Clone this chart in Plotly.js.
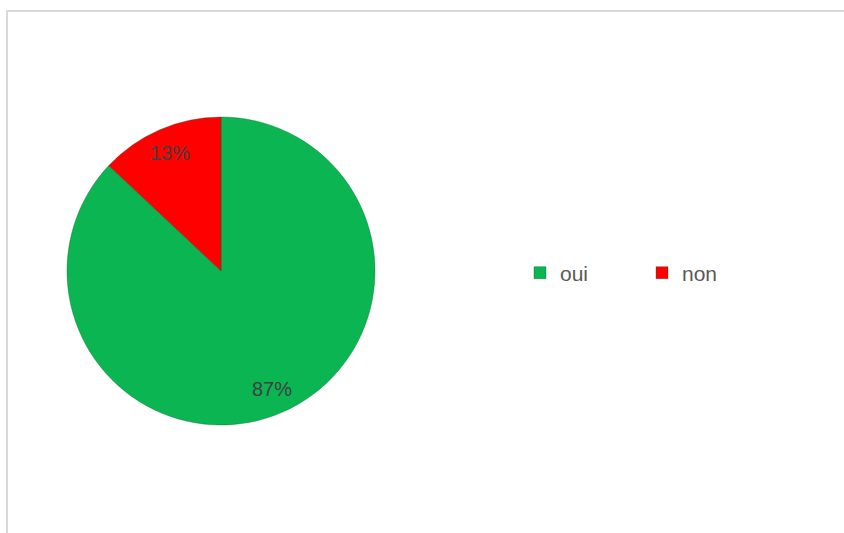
<!DOCTYPE html>
<html><head><meta charset="utf-8">
<script src="https://cdn.plot.ly/plotly-3.0.1.min.js"></script>
<style>
html,body{margin:0;padding:0;background:#fff;overflow:hidden}
#frame{position:absolute;left:6px;top:10px;width:900px;height:600px;border-left:2px solid #d9d9d9;border-top:2px solid #d9d9d9}
#chart{position:absolute;left:0;top:0;width:844px;height:533px}
</style></head><body>
<div id="frame"></div>
<div id="chart"></div>
<script>
const labels = ["oui", "non"];
const values = [87, 13];
const colors = ["#0AB552", "#FF0000"];

const W = 844, H = 533;
const cx = 221, cy = 271, R = 154;
const domX = [(cx - R) / W, (cx + R) / W];
const domY = [(H - cy - R) / H, (H - cy + R) / H];

// label annotations placed at slice mid-angles computed from data
const total = values.reduce((a, b) => a + b, 0);
let acc = 0;
const annotations = values.map((v, i) => {
  const mid = (acc + v / 2) / total * 2 * Math.PI; acc += v;
  const r = 0.835 * R;
  const px = cx + r * Math.sin(mid);
  const py = cy - r * Math.cos(mid);
  return {
    x: px / W, y: 1 - py / H, xref: "paper", yref: "paper",
    xanchor: "center", yanchor: "middle",
    text: Math.round(v / total * 100) + "%", showarrow: false,
    font: {family: "Liberation Sans, Arial, sans-serif", size: 20, color: "#404040"}
  };
});

Plotly.newPlot("chart", [{
  type: "pie",
  labels: labels,
  values: values,
  sort: false,
  direction: "clockwise",
  rotation: 0,
  textinfo: "none",
  hoverinfo: "label+percent",
  marker: {colors: colors, line: {color: "rgba(0,90,40,0.35)", width: 1}},
  domain: {x: domX, y: domY}
}], {
  width: W, height: H,
  margin: {l: 0, r: 0, t: 0, b: 0, autoexpand: false},
  paper_bgcolor: "rgba(0,0,0,0)",
  showlegend: true,
  legend: {
    orientation: "h", x: 520 / W, xanchor: "left", y: 1 - 273 / H, yanchor: "middle",
    font: {family: "Liberation Sans, Arial, sans-serif", size: 21, color: "#595959"},
    itemwidth: 30, entrywidth: 77, bgcolor: "rgba(0,0,0,0)"
  },
  annotations: annotations
}, {displayModeBar: false, staticPlot: true});
</script>
</body></html>
